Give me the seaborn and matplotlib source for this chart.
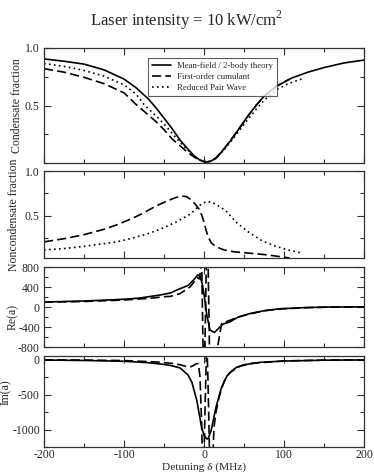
import numpy as np
import pandas as pd
import matplotlib
matplotlib.use("Agg")
import matplotlib.pyplot as plt
from matplotlib.ticker import MultipleLocator
import seaborn as sns

# detuning (MHz) and values
cond_mf_x = [-200, -175, -150, -125, -100, -85, -70, -60, -50, -40, -30, -20, -12, -5, 0, 4, 8, 15, 25, 35,
             45, 55, 65, 75, 90, 110, 130, 150, 175, 200]
cond_mf_y = [0.905, 0.885, 0.86, 0.81, 0.73, 0.655, 0.56, 0.48, 0.39, 0.30, 0.20, 0.12, 0.06, 0.025, 0.012,
             0.01, 0.015, 0.04, 0.12, 0.21, 0.31, 0.41, 0.50, 0.58, 0.665, 0.74, 0.79, 0.83, 0.87, 0.895]
cond_cum_x = [-200, -175, -150, -125, -100, -85, -70, -60, -50, -40, -30, -20, -12, -5, 0, 4, 8, 15, 25, 35,
              45, 55, 65, 75, 90, 107]
cond_cum_y = [0.82, 0.79, 0.745, 0.69, 0.61, 0.51, 0.42, 0.36, 0.29, 0.21, 0.15, 0.09, 0.05, 0.025, 0.012,
              0.01, 0.015, 0.045, 0.125, 0.215, 0.31, 0.41, 0.50, 0.58, 0.665, 0.73]
cond_rpw_x = [-200, -175, -150, -125, -100, -85, -74, -60, -50, -40, -30, -20, -12, -5, 0, 4, 8, 15, 25, 35,
              45, 55, 65, 75, 90, 105, 122]
cond_rpw_y = [0.865, 0.84, 0.805, 0.755, 0.68, 0.60, 0.50, 0.41, 0.34, 0.26, 0.18, 0.11, 0.06, 0.025, 0.012,
              0.01, 0.015, 0.045, 0.115, 0.20, 0.29, 0.38, 0.465, 0.545, 0.635, 0.69, 0.73]

nonc_cum_x = [-200, -175, -150, -125, -109, -90, -76, -60, -45, -35, -28, -22, -16, -10, -5, -1, 2, 5, 9, 15,
              25, 37, 55, 79, 95, 107]
nonc_cum_y = [0.21, 0.245, 0.29, 0.35, 0.40, 0.47, 0.53, 0.61, 0.67, 0.705, 0.72, 0.715, 0.68, 0.62, 0.56,
              0.46, 0.36, 0.27, 0.20, 0.155, 0.12, 0.10, 0.085, 0.065, 0.045, 0.03]
nonc_rpw_x = [-200, -175, -150, -125, -109, -90, -67, -50, -35, -17, -5, 3, 10, 20, 27, 40, 57, 73, 90, 105, 120]
nonc_rpw_y = [0.12, 0.135, 0.16, 0.19, 0.21, 0.25, 0.31, 0.37, 0.43, 0.52, 0.62, 0.66, 0.65, 0.60, 0.56,
              0.43, 0.31, 0.22, 0.16, 0.12, 0.09]

re_mf_x = [-200, -150, -120, -100, -80, -55, -42, -34, -20, -13, -8, -5, -2, 1, 3.5, 7.5, 13, 18, 24, 32,
           43, 57, 75, 95, 130, 160, 200]
re_mf_y = [100, 120, 140, 155, 180, 240, 280, 340, 430, 540, 640, 620, 450, 150, -160, -460, -510, -430,
           -340, -300, -200, -133, -75, -35, -10, 0, 2]
re_cum_x = [-200, -150, -100, -67, -50, -42, -30, -17.5, -11, -8, -6, -4.5, -3, -1, 1, 3, 5, 7, 15, 17, 22,
            30, 43, 57, 75, 95, 130, 160, 200]
re_cum_y = [95, 110, 140, 175, 205, 213, 267, 400, 530, 590, 560, 700, 1000, -1000, -1000, 1000, 1000,
            -1000, -1000, -800, -330, -280, -200, -140, -75, -40, -12, -2, 0]

im_mf_x = [-200, -150, -100, -70, -50, -42, -30, -20, -15, -9, -3, 0, 3, 5, 9, 15, 22, 29, 35, 41, 50, 70,
           100, 150, 200]
im_mf_y = [-8, -14, -25, -45, -70, -85, -120, -220, -330, -585, -967, -1080, -1130, -1135, -1014, -680, -395,
           -230, -160, -110, -75, -40, -22, -10, -6]
im_cum_x = [-200, -150, -100, -60, -40, -30, -22, -17, -13, -10, -7, -5, -3, -2, 0, 1.5, 3, 4, 5, 7, 11, 12.5,
            15, 18.75, 22.5, 26, 32, 45, 60, 100, 150, 200]
im_cum_y = [-4, -8, -15, -35, -55, -75, -100, -105, -85, -60, -60, -250, -900, -1400, -1400, -600, 80, 80,
            -300, -1400, -1400, -967, -750, -540, -400, -290, -190, -95, -55, -20, -9, -5]

sns.set_style("ticks")
plt.rcParams['font.family'] = ['Liberation Serif', 'DejaVu Serif']
plt.rcParams['mathtext.fontset'] = 'custom'
plt.rcParams['mathtext.rm'] = 'Liberation Serif'
plt.rcParams['axes.unicode_minus'] = False
plt.rcParams['axes.linewidth'] = 0.9
plt.rcParams['axes.edgecolor'] = '#333333'

W, H = 374, 475
fig = plt.figure(figsize=(W / 100, H / 100), dpi=100)


def frame(top, bottom):
    return fig.add_axes([44 / W, 1 - bottom / H, 320 / W, (bottom - top) / H])


ax1 = frame(48, 163)
ax2 = frame(171, 258)
ax3 = frame(267, 347)
ax4 = frame(356, 447)

dash = (0, (5.5, 2.5))
dot = (0, (1, 2))


def draw(ax, xs, ys, ls, label=None):
    df = pd.DataFrame({'det': xs, 'val': ys})
    sns.lineplot(data=df, x='det', y='val', ax=ax, color='black', linestyle=ls, lw=1.2,
                 sort=False, estimator=None, label=label, legend=False)


draw(ax1, cond_mf_x, cond_mf_y, '-', 'Mean-field / 2-body theory')
draw(ax1, cond_cum_x, cond_cum_y, dash, 'First-order cumulant')
draw(ax1, cond_rpw_x, cond_rpw_y, dot, 'Reduced Pair Wave')
draw(ax2, nonc_cum_x, nonc_cum_y, dash)
draw(ax2, nonc_rpw_x, nonc_rpw_y, dot)
draw(ax3, re_mf_x, re_mf_y, '-')
draw(ax3, re_cum_x, re_cum_y, dash)
draw(ax4, im_mf_x, im_mf_y, '-')
draw(ax4, im_cum_x, im_cum_y, dash)

ax1.set_ylim(0, 1.0)
ax1.set_yticks([0.5, 1.0])
ax1.yaxis.set_minor_locator(MultipleLocator(0.25))
ax2.set_ylim(0.03, 1.0)
ax2.set_yticks([0.5, 1.0])
ax2.yaxis.set_minor_locator(MultipleLocator(0.25))
ax3.set_ylim(-800, 800)
ax3.set_yticks([-800, -400, 0, 400, 800])
ax3.yaxis.set_minor_locator(MultipleLocator(200))
ax4.set_ylim(-1250, 50)
ax4.set_yticks([-1000, -500, 0])
ax4.yaxis.set_minor_locator(MultipleLocator(250))

# label x given as the right edge of the rotated text, in axes fraction
labels = [('Condensate fraction', -0.066, 0.5), ('Noncondensate fraction', -0.075, 0.5),
          ('Re(a)', -0.077, 0.37), ('Im(a)', -0.1, 0.6)]
for ax, (lab, lx, ly) in zip([ax1, ax2, ax3, ax4], labels):
    ax.set_xlim(-200, 200)
    ax.xaxis.set_major_locator(MultipleLocator(100))
    ax.xaxis.set_minor_locator(MultipleLocator(50))
    ax.tick_params(which='both', direction='in', top=True, right=True, labelsize=8.5, pad=3,
                   width=0.8, color='#333333')
    ax.tick_params(which='major', length=5)
    ax.tick_params(which='minor', length=3)
    ax.set_ylabel(lab, fontsize=8.5)
    ax.yaxis.set_label_coords(lx, ly)
    ax.set_xlabel('')
    if ax is not ax4:
        ax.tick_params(labelbottom=False)

ax4.set_xticks([-200, -100, 0, 100, 200])
ax4.tick_params(axis='x', pad=1.5)
ax4.set_xlabel('Detuning δ (MHz)', fontsize=8.2)
ax4.xaxis.set_label_coords(0.5, -0.165)

leg = ax1.legend(loc='upper center', bbox_to_anchor=(0.527, 0.95), fontsize=6.3, frameon=True,
                 fancybox=False, handlelength=2.2, borderpad=0.45, labelspacing=0.3, handletextpad=0.7)
leg.get_frame().set_edgecolor('#333333')
leg.get_frame().set_linewidth(0.8)

fig.text(0.5, 1 - 20 / H, 'Laser intensity = 10 kW/cm$^{2}$', ha='center', va='center', fontsize=12)

fig.savefig('out.png', dpi=100)
